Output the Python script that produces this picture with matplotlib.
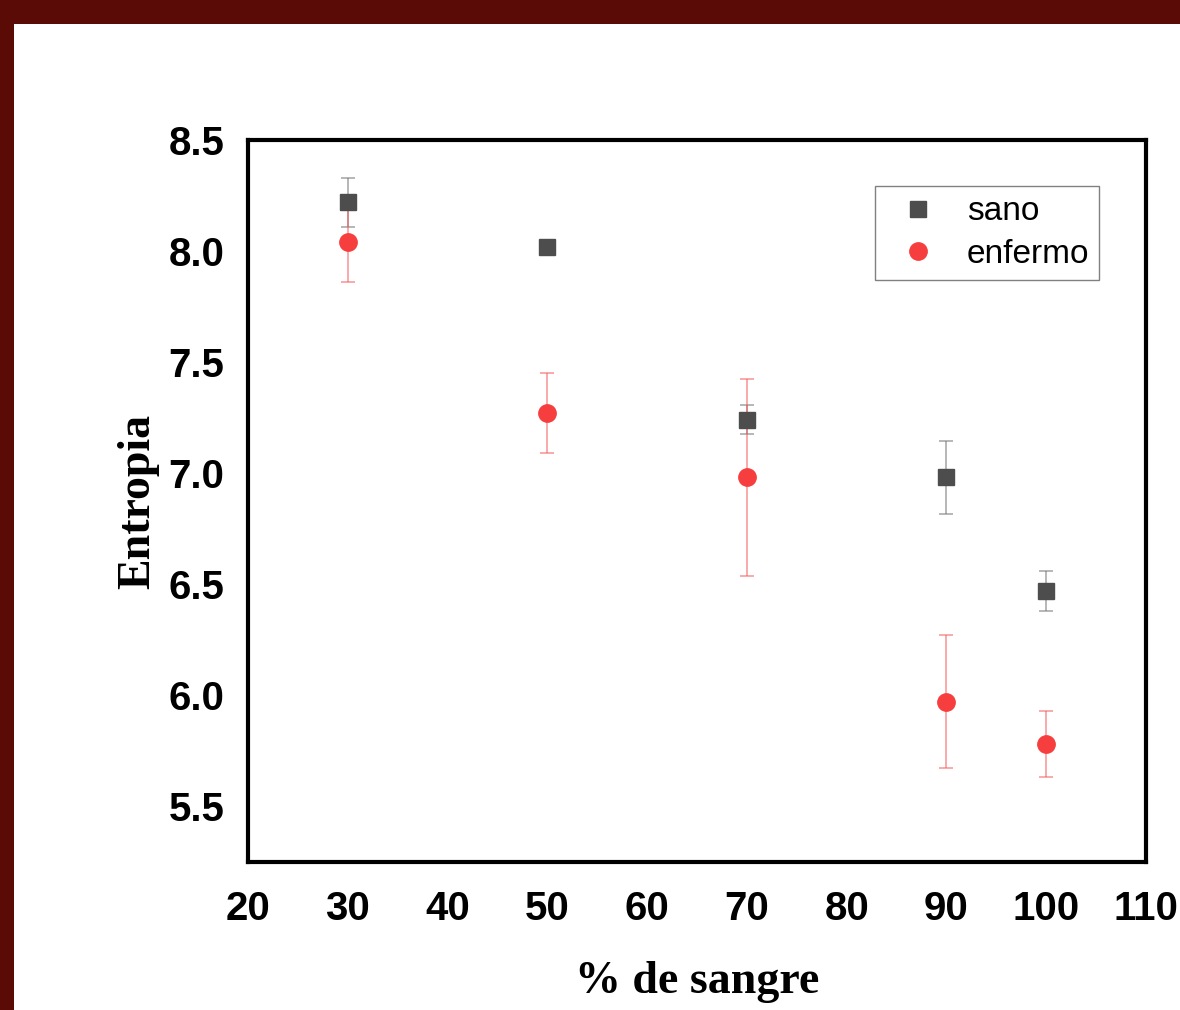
import matplotlib.pyplot as plt
from matplotlib.patches import Rectangle

# Data
blood_pct = [30, 50, 70, 90, 100]
sano_mean = [8.22, 8.02, 7.24, 6.98, 6.47]
sano_err = [0.11, 0.02, 0.065, 0.165, 0.09]
enfermo_mean = [8.04, 7.27, 6.98, 5.97, 5.78]
enfermo_err = [0.18, 0.18, 0.445, 0.30, 0.15]

x_ticks = [20, 30, 40, 50, 60, 70, 80, 90, 100, 110]
y_ticks = [5.5, 6.0, 6.5, 7.0, 7.5, 8.0, 8.5]

W, H = 1180, 1010
fig = plt.figure(figsize=(W / 100, H / 100), dpi=100, facecolor="#5a0b06")

# White slide panel on top of the dark red background (kept behind the axes)
fig.patches.append(Rectangle((14 / W, 0), 1 - 14 / W, (H - 24) / H,
                             transform=fig.transFigure, facecolor="white",
                             edgecolor="none", zorder=-10))

ax = fig.add_axes([248 / W, (H - 862) / H, 898 / W, 722 / H])
ax.set_facecolor("white")

# Healthy samples
ax.errorbar(blood_pct, sano_mean, yerr=sano_err, fmt="s", color="#4d4d4d",
            markersize=11, ecolor=(0.45, 0.45, 0.45, 0.6), elinewidth=1.2,
            capsize=5, capthick=1.2, label="sano")

# Sick samples
ax.errorbar(blood_pct, enfermo_mean, yerr=enfermo_err, fmt="o", color="#f73e3e",
            markersize=12.5, ecolor=(0.97, 0.35, 0.35, 0.6), elinewidth=1.2,
            capsize=5, capthick=1.2, label="enfermo")

ax.set_xlim(20, 110)
ax.set_ylim(5.248, 8.5)
ax.set_xticks(x_ticks)
ax.set_yticks(y_ticks)
ax.set_yticklabels([f"{v:.1f}" for v in y_ticks])

for lbl in ax.get_xticklabels() + ax.get_yticklabels():
    lbl.set_family("Liberation Sans")
    lbl.set_fontweight("bold")
    lbl.set_fontsize(29)
ax.tick_params(axis="both", length=0)
ax.tick_params(axis="x", pad=20)
ax.tick_params(axis="y", pad=17)

for spine in ax.spines.values():
    spine.set_linewidth(3)
    spine.set_color("black")

ax.set_xlabel("% de sangre", family="Liberation Serif", fontweight="bold",
              fontsize=33, labelpad=24)
ax.set_ylabel("Entropia", family="Liberation Serif", fontweight="bold",
              fontsize=33, labelpad=7)

# Legend without error bars in the handles
handles, labels = ax.get_legend_handles_labels()
handles = [h[0] for h in handles]
leg = ax.legend(handles, labels, loc="upper right", bbox_to_anchor=(0.948, 0.936),
                borderaxespad=0, fancybox=False, framealpha=1,
                prop={"family": "Liberation Sans", "size": 24},
                handletextpad=0.45, borderpad=0.3, labelspacing=0.35,
                handlelength=2.0)
leg.get_frame().set_edgecolor("#808080")
leg.get_frame().set_linewidth(1)

plt.savefig("out.png", dpi=100, facecolor=fig.get_facecolor())
